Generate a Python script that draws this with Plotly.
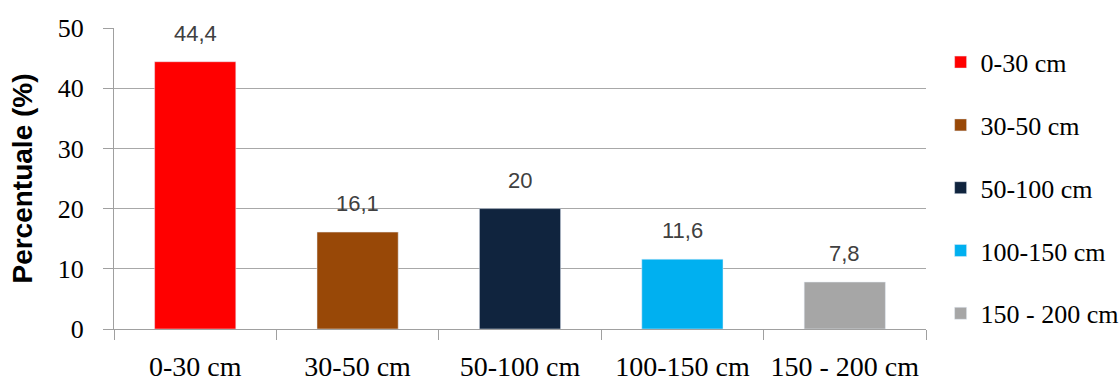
import plotly.graph_objects as go

categories = ["0-30 cm", "30-50 cm", "50-100 cm", "100-150 cm", "150 - 200 cm"]
values = [44.4, 16.1, 20, 11.6, 7.8]
value_labels = ["44,4", "16,1", "20", "11,6", "7,8"]
colors = ["#FF0000", "#984807", "#10243E", "#00B0F0", "#A6A6A6"]

serif = "Liberation Serif, Times New Roman, serif"
sans = "Liberation Sans, Arial, sans-serif"

fig = go.Figure()
for i, (cat, val, col) in enumerate(zip(categories, values, colors)):
    fig.add_trace(go.Bar(
        x=[cat], y=[val], name=cat, marker_color=col, width=0.5,
        legendgroup=f"g{i}", showlegend=True,
    ))

# value labels above each bar
for cat, val, lab in zip(categories, values, value_labels):
    fig.add_annotation(
        x=cat, y=val, text=lab, showarrow=False, yanchor="bottom", yshift=14,
        font=dict(family=sans, size=22, color="#404040"),
    )

fig.update_layout(
    width=1120, height=383,
    margin=dict(l=114, r=194, t=28, b=54, autoexpand=False),
    paper_bgcolor="white", plot_bgcolor="white",
    barmode="overlay",
    showlegend=True,
    legend=dict(
        x=1.018, xanchor="left", yref="container", y=0.899, yanchor="top",
        traceorder="grouped", tracegroupgap=26,
        font=dict(family=serif, size=26, color="#000000"),
        itemwidth=30, maxheight=1,
    ),
    xaxis=dict(
        type="category", categoryorder="array", categoryarray=categories,
        showline=True, linecolor="#A0A0A0", linewidth=1,
        ticks="outside", tickson="boundaries", ticklen=10, tickcolor="#A0A0A0",
        tickfont=dict(family=serif, size=28, color="#000000"),
        ticklabelstandoff=12,
        showgrid=False,
    ),
    yaxis=dict(
        range=[0, 50], dtick=10,
        showline=True, linecolor="#A0A0A0", linewidth=1,
        ticks="outside", ticklen=10, tickcolor="#A0A0A0",
        showgrid=True, gridcolor="#A8A8A8", gridwidth=1,
        tickfont=dict(family=serif, size=26, color="#000000"),
        ticklabelstandoff=14,
        title=dict(text="<b>Percentuale (%)</b>",
                   font=dict(family=sans, size=28, color="#000000"),
                   standoff=16),
        zeroline=False,
    ),
)

fig.write_html("out.html")
